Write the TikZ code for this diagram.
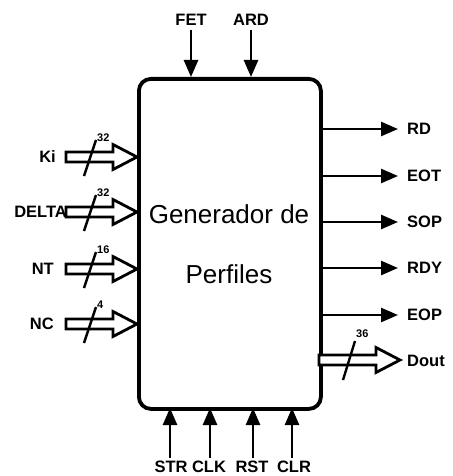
\documentclass[tikz,border=0pt]{standalone}
\usepackage{fontspec}
\setmainfont{Liberation Sans}
\usetikzlibrary{arrows.meta}
\begin{document}
\begin{tikzpicture}[x=1pt,y=-1pt,
  lbl/.style={font=\fontsize{16.5}{16.5}\selectfont\bfseries, inner sep=0pt},
  num/.style={font=\fontsize{11}{11}\selectfont\bfseries, inner sep=0pt, anchor=west},
  sig/.style={line width=2.6pt, -{Triangle[length=17pt,width=14pt]}},
  pics/busarrow/.style={code={
    \draw[line width=2.8pt, line join=miter, fill=white]
      (0,-5) -- (#1-24,-5) -- (#1-24,-12.5) -- (#1,0) -- (#1-24,12.5) -- (#1-24,5) -- (0,5) -- cycle;
  }},
  slash/.style={line width=2.4pt}
]
\useasboundingbox (0,0) rectangle (452,476);

% main block
\node[draw, line width=3.8pt, rounded corners=12pt, minimum width=182pt, minimum height=330pt,
      anchor=north west, inner sep=0pt] (box) at (137,77) {};
\node[font=\fontsize{26}{26}\selectfont, inner sep=0pt] (t1) at (229,214) {Generador de};
\node[font=\fontsize{26}{26}\selectfont, inner sep=0pt] (t2) at (229,274) {Perfiles};

% top inputs
\node[lbl] (fet) at (191,20) {FET};
\node[lbl] (ard) at (251,20) {ARD};
\coordinate (fetb) at (191,77);
\coordinate (ardb) at (251,77);
\draw[sig] (191,30) -- (fetb);
\draw[sig] (251,30) -- (ardb);

% bottom inputs
\node[lbl] (str) at (171,467) {STR};
\node[lbl] (clk) at (209,467) {CLK};
\node[lbl] (rst) at (252,467) {RST};
\node[lbl] (clr) at (294,467) {CLR};
\coordinate (strt) at (170,408);
\coordinate (clkt) at (210,408);
\coordinate (rstt) at (253,408);
\coordinate (clrt) at (292,408);
\draw[sig] (170,458) -- (strt);
\draw[sig] (210,458) -- (clkt);
\draw[sig] (253,458) -- (rstt);
\draw[sig] (292,458) -- (clrt);

% left bus inputs
\node[lbl, anchor=east] (ki) at (56,157) {Ki};
\node[lbl, anchor=east] (delta) at (67,212) {DELTA};
\node[lbl, anchor=east] (nt) at (54,269) {NT};
\node[lbl, anchor=east] (nc) at (54,324) {NC};

\pic at (66,157) {busarrow=71};
\draw[slash] (84,176) -- (96,140);
\node[num] (n1) at (97,138) {32};

\pic at (66,212) {busarrow=71};
\draw[slash] (84,231) -- (96,195);
\node[num] (n2) at (97,193) {32};

\pic at (66,269) {busarrow=71};
\draw[slash] (84,288) -- (96,252);
\node[num] (n3) at (97,250) {16};

\pic at (66,324) {busarrow=71};
\draw[slash] (84,343) -- (96,307);
\node[num] (n4) at (97,305) {4};

% right outputs
\node[lbl, anchor=west] (rd) at (407,129) {RD};
\node[lbl, anchor=west] (eot) at (407,176) {EOT};
\node[lbl, anchor=west] (sop) at (407,222) {SOP};
\node[lbl, anchor=west] (rdy) at (407,268) {RDY};
\node[lbl, anchor=west] (eop) at (407,315) {EOP};
\node[lbl, anchor=west] (dout) at (407,361) {Dout};
\draw[sig] (319,129) -- (398,129);
\draw[sig] (319,176) -- (398,176);
\draw[sig] (319,222) -- (398,222);
\draw[sig] (319,268) -- (398,268);
\draw[sig] (319,315) -- (398,315);

\pic at (319,360) {busarrow=81};
\draw[slash] (343,380) -- (355,341);
\node[num] (n5) at (356,334) {36};
\end{tikzpicture}
\end{document}
